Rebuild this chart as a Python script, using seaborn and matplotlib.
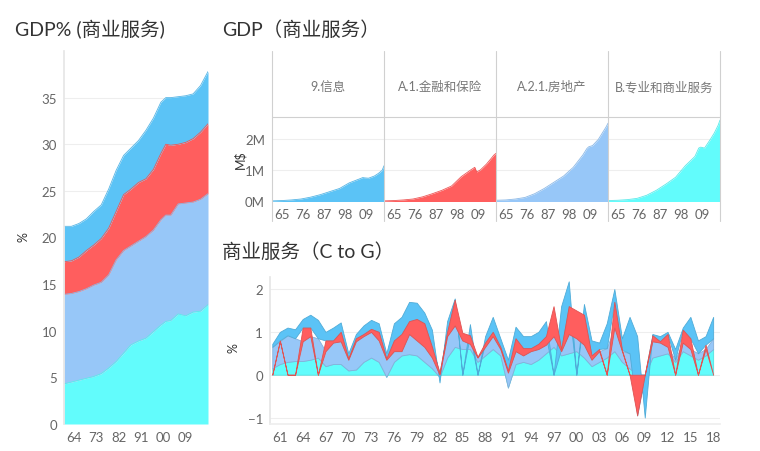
import numpy as np
import pandas as pd
import matplotlib.pyplot as plt
import seaborn as sns
from matplotlib.lines import Line2D

W, H = 760, 452

# series order everywhere: professional services, real estate, finance, information
CYAN = '#62FCFC'
LIGHT_BLUE = '#97C7F8'
RED = '#FF5E5E'
BLUE = '#5BC3F6'

panel_names = ['9.信息', 'A.1.金融和保险', 'A.2.1.房地产', 'B.专业和商业服务']

# --- left: share of GDP, %
share_years = [1960, 1963, 1966, 1969, 1972, 1975, 1978, 1981, 1984, 1987, 1990,
               1993, 1996, 1999, 2001, 2003, 2006, 2009, 2012, 2015, 2018]
share_prof = [4.3, 4.5, 4.7, 4.9, 5.1, 5.4, 6.0, 6.7, 7.6, 8.5, 8.9,
              9.2, 9.9, 10.6, 11.0, 11.1, 11.8, 11.6, 12.0, 12.1, 12.8]
share_realestate = [9.6, 9.5, 9.5, 9.6, 9.8, 9.8, 10.0, 10.9, 11.0, 10.6, 10.7,
                    10.9, 10.9, 11.3, 11.4, 11.3, 11.8, 12.1, 11.8, 12.0, 11.9]
share_finance = [3.5, 3.5, 3.7, 4.1, 4.3, 4.7, 5.0, 5.2, 6.0, 6.1, 6.3,
                 6.2, 6.5, 7.1, 7.6, 7.5, 6.4, 6.5, 6.8, 7.2, 7.5]
share_info = [3.8, 3.7, 3.6, 3.4, 3.6, 3.6, 4.2, 4.4, 4.2, 4.4, 4.5,
              5.2, 5.5, 5.5, 5.0, 5.1, 5.1, 5.0, 4.8, 5.0, 5.6]
share_ticks = [1964, 1973, 1982, 1991, 2000, 2009]
share_tick_labels = ['64', '73', '82', '91', '00', '09']

# --- top: value added, million $
level_years = [1960, 1965, 1970, 1975, 1980, 1985, 1990, 1995, 2000, 2005,
               2007, 2008, 2010, 2013, 2015, 2017, 2018]
level_info = [0.02, 0.03, 0.05, 0.08, 0.14, 0.22, 0.32, 0.42, 0.60, 0.72,
              0.77, 0.76, 0.75, 0.82, 0.90, 1.00, 1.15]
level_finance = [0.02, 0.03, 0.05, 0.08, 0.15, 0.25, 0.36, 0.50, 0.80, 1.02,
                 1.10, 0.95, 1.02, 1.20, 1.35, 1.50, 1.55]
level_realestate = [0.04, 0.05, 0.08, 0.13, 0.25, 0.42, 0.62, 0.82, 1.10, 1.50,
                    1.70, 1.76, 1.80, 2.00, 2.20, 2.40, 2.52]
level_prof = [0.03, 0.04, 0.06, 0.10, 0.20, 0.36, 0.56, 0.78, 1.15, 1.45,
              1.72, 1.75, 1.72, 2.00, 2.20, 2.45, 2.62]
level_ticks = [1965, 1976, 1987, 1998, 2009]
level_tick_labels = ['65', '76', '87', '98', '09']
level_yticks = [0, 1, 2]
level_ytick_labels = ['0M', '1M', '2M']

# --- bottom: contribution to growth, % (nan = no value that year)
nan = np.nan
growth_years = list(range(1960, 2019))
growth_prof = [0.15, 0.25, 0.30, 0.32, 0.32, 0.35, 0.40, 0.20, 0.25, 0.25,
               0.10, 0.12, 0.30, 0.40, 0.30, -0.05, 0.30, 0.45, 0.48, 0.45,
               0.30, 0.15, -0.05, 0.40, 0.65, 0.60, 0.60, 0.30, 0.45, 0.60,
               0.45, -0.30, 0.25, 0.30, 0.25, 0.35, 0.50, 0.65, 0.45, 0.50,
               0.55, 0.40, 0.20, 0.30, 0.40, 0.55, 0.30, 0.15, 0.00, 0.00,
               0.40, 0.45, 0.50, 0.30, 0.55, 0.45, 0.35, 0.45, 0.60]
growth_realestate = [0.50, 0.53, 0.62, 0.53, 0.46, 0.55, 0.45, 0.35, 0.50, 0.53,
                     0.25, 0.66, 0.60, 0.60, 0.50, 0.40, 0.25, 0.10, 0.47, 0.35,
                     0.35, 0.25, 0.05, 0.50, 0.50, 0.20, 0.12, 0.10, 0.20, 0.30,
                     0.15, 0.35, 0.30, 0.15, 0.30, 0.25, 0.20, 0.25, 0.10, 0.45,
                     0.30, 0.30, 0.15, 0.25, 0.22, 0.55, 0.25, 0.35, 0.00, 0.00,
                     0.38, 0.30, 0.15, 0.05, 0.20, 0.15, 0.15, 0.15, 0.25]
growth_finance = [nan, 0.02, nan, nan, 0.32, 0.20, nan, 0.25, 0.05, 0.22,
                  0.03, 0.07, 0.05, 0.07, 0.20, 0.03, 0.25, 0.40, 0.30, 0.50,
                  0.55, 0.25, 0.05, 0.10, 0.60, 0.18, 0.20, 0.02, 0.10, 0.10,
                  0.05, 0.05, 0.30, 0.17, 0.07, 0.12, 0.20, 0.70, 0.05, 0.65,
                  0.65, 0.70, 0.10, 0.05, nan, 0.60, 0.03, nan, -0.95, 0.00,
                  0.14, 0.03, 0.30, nan, 0.30, 0.25, nan, 0.10, nan]
growth_info = [0.07, 0.20, 0.18, 0.21, 0.20, 0.30, 0.43, 0.20, 0.30, 0.22,
               0.12, 0.10, 0.20, 0.21, 0.20, 0.12, 0.40, 0.40, 0.45, 0.38,
               0.25, 0.40, -0.23, 0.25, 0.03, nan, 0.26, nan, 0.15, 0.35,
               0.20, 0.25, 0.27, 0.28, 0.28, 0.28, 0.35, nan, 1.00, 0.58,
               nan, 0.25, 0.35, 0.15, 0.58, 0.30, 0.27, 0.85, 1.85, -1.00,
               0.03, 0.12, 0.05, 0.25, 0.05, 0.50, 0.30, 0.20, 0.50]
growth_ticks = list(range(1961, 2019, 3))
growth_tick_labels = ['61', '64', '67', '70', '73', '76', '79', '82', '85', '88',
                      '91', '94', '97', '00', '03', '06', '09', '12', '15', '18']


def px_rect(x0, y0, x1, y1):
    return [x0 / W, 1 - y1 / H, (x1 - x0) / W, (y1 - y0) / H]


def darker(col, f=0.85):
    r, g, b = (int(col[i:i + 2], 16) / 255 for i in (1, 3, 5))
    return (r * f, g * f, b * f)


def style_axis(ax):
    sns.despine(ax=ax, left=True, bottom=True)
    ax.tick_params(length=0, labelsize=9.5, labelcolor='#666666', pad=5)
    ax.grid(axis='y', color='#eeeeee', linewidth=0.8)
    ax.grid(axis='x', visible=False)
    ax.set_axisbelow(True)
    ax.set_xlabel('')
    ax.set_ylabel('')


def stacked_bands(layers):
    # Tableau-like stacking: a missing value collapses its band to zero
    base = np.zeros(len(layers[0]))
    bands = []
    for vals in layers:
        v = np.asarray(vals, dtype=float)
        top = base + np.nan_to_num(v)
        miss = np.isnan(v)
        bands.append((np.where(miss, 0, base), np.where(miss, 0, top)))
        base = top
    return bands


sns.set_theme(style='white')
plt.rcParams['font.family'] = ['Lato', 'Noto Sans CJK SC', 'DejaVu Sans']

fig = plt.figure(figsize=(W / 100, H / 100), dpi=100)

# ---------------- left panel ----------------
ax = fig.add_axes(px_rect(64, 52, 208, 425))
left_layers = [share_prof, share_realestate, share_finance, share_info]
left_cols = [CYAN, LIGHT_BLUE, RED, BLUE]
for (lo, hi), col in zip(stacked_bands(left_layers), left_cols):
    ax.fill_between(share_years, lo, hi, color=col, lw=0)
    sns.lineplot(x=share_years, y=hi, ax=ax, color=darker(col, 0.93), lw=0.6)
style_axis(ax)
ax.spines['left'].set_visible(True)
ax.spines['left'].set_color('#e6e6e6')
ax.set_xlim(1960, 2018)
ax.set_ylim(0, 40)
ax.set_yticks(range(0, 40, 5))
ax.set_xticks(share_ticks)
ax.set_xticklabels(share_tick_labels)
fig.text(15 / W, 1 - 30 / H, 'GDP% (商业服务)', fontsize=14, color='#333333', va='center')
fig.text(24 / W, 1 - 237 / H, '%', fontsize=9, color='#333333', rotation=90,
         va='center', ha='center')

# ---------------- top small multiples ----------------
edges = [272, 384, 496, 608, 720]
levels = [level_info, level_finance, level_realestate, level_prof]
level_cols = [BLUE, RED, LIGHT_BLUE, CYAN]
for i, (name, vals, col) in enumerate(zip(panel_names, levels, level_cols)):
    ax = fig.add_axes(px_rect(edges[i], 118, edges[i + 1], 202.5))
    ax.fill_between(level_years, 0, vals, color=col, lw=0)
    sns.lineplot(x=level_years, y=vals, ax=ax, color=darker(col, 0.93), lw=0.6)
    style_axis(ax)
    ax.set_xlim(1960, 2018)
    ax.set_ylim(0, 2.72)
    ax.set_yticks(level_yticks)
    ax.set_yticklabels(level_ytick_labels if i == 0 else [])
    ax.set_xticks(level_ticks)
    ax.set_xticklabels(level_tick_labels)
    fig.text((edges[i] + edges[i + 1]) / 2 / W, 1 - 87 / H, name, fontsize=9,
             color='#777777', ha='center', va='center')

for x in edges:
    fig.add_artist(Line2D([x / W, x / W], [1 - 52 / H, 1 - 222 / H],
                          color='#d0d0d0', lw=0.8))
fig.add_artist(Line2D([edges[0] / W, edges[-1] / W], [1 - 118 / H, 1 - 118 / H],
                      color='#d0d0d0', lw=0.8))
fig.text(222 / W, 1 - 30 / H, 'GDP（商业服务）', fontsize=14, color='#333333', va='center')
fig.text(240 / W, 1 - 160 / H, 'M$', fontsize=9, color='#333333', rotation=90,
         va='center', ha='center')

# ---------------- bottom: growth contributions ----------------
ax = fig.add_axes(px_rect(270, 278, 720, 425))
growth_layers = [growth_prof, growth_realestate, growth_finance, growth_info]
bands = stacked_bands(growth_layers)
growth_cols = [CYAN, LIGHT_BLUE, RED, BLUE]
# tableau draws information before finance here
for k in [0, 1, 3, 2]:
    lo, hi = bands[k]
    col = growth_cols[k]
    ax.fill_between(growth_years, lo, hi, facecolor=col, edgecolor=darker(col, 0.88),
                    lw=0.6)
style_axis(ax)
ax.spines['left'].set_visible(True)
ax.spines['left'].set_color('#e6e6e6')
ax.spines['bottom'].set_visible(True)
ax.spines['bottom'].set_color('#eeeeee')
ax.set_xlim(1959.7, 2018.9)
ax.set_ylim(-1.15, 2.28)
ax.set_yticks([-1, 0, 1, 2])
ax.set_xticks(growth_ticks)
ax.set_xticklabels(growth_tick_labels)
fig.text(222 / W, 1 - 252 / H, '商业服务（C to G）', fontsize=14, color='#333333', va='center')
fig.text(234 / W, 1 - 348 / H, '%', fontsize=9, color='#333333', rotation=90,
         va='center', ha='center')

fig.savefig('out.png', dpi=100)
